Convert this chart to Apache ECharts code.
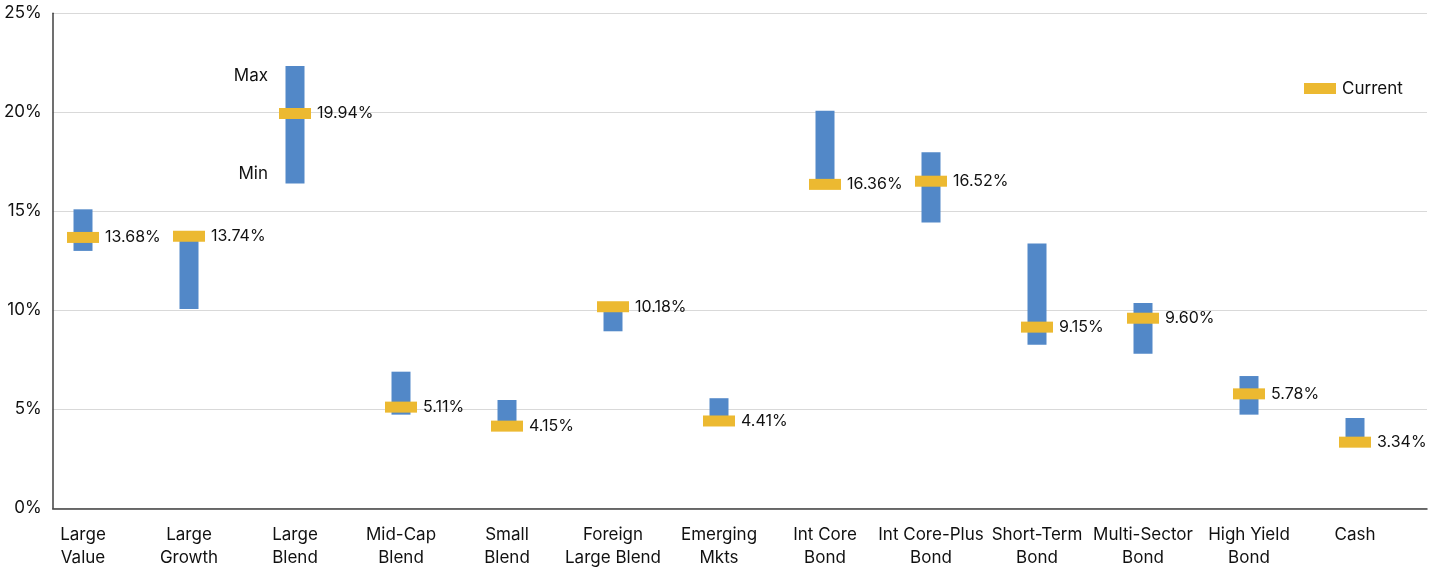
<!DOCTYPE html>
<html>
<head>
<meta charset="utf-8">
<script src="https://cdn.jsdelivr.net/npm/echarts@6/dist/echarts.min.js"></script>
<style>
  html, body { margin: 0; padding: 0; background: #fff; }
  #chart { width: 1442px; height: 567px; }
</style>
</head>
<body>
<div id="chart"></div>
<script>
// Yield ranges (min / max) by category, with the current yield
const categories = [
  'Large\nValue', 'Large\nGrowth', 'Large\nBlend', 'Mid-Cap\nBlend', 'Small\nBlend',
  'Foreign\nLarge Blend', 'Emerging\nMkts', 'Int Core\nBond', 'Int Core-Plus\nBond',
  'Short-Term\nBond', 'Multi-Sector\nBond', 'High Yield\nBond', 'Cash'
];
const minValues = [13.00, 10.07, 16.41, 4.73, 4.15, 8.94, 4.41, 16.36, 14.44, 8.26, 7.81, 4.73, 3.34];
const maxValues = [15.10, 13.74, 22.34, 6.90, 5.47, 10.18, 5.56, 20.08, 17.98, 13.38, 10.37, 6.68, 4.56];
const currentValues = [13.68, 13.74, 19.94, 5.11, 4.15, 10.18, 4.41, 16.36, 16.52, 9.15, 9.60, 5.78, 3.34];
const yTicks = [0, 5, 10, 15, 20, 25];

const FONT = 'Inter, "Noto Sans", sans-serif';
const BLUE = '#5288C8';
const GOLD = '#ECB931';
const TEXT = '#111111';

const chart = echarts.init(document.getElementById('chart'), null, { renderer: 'canvas' });

const gridTop = 13.3;
const gridBottom = 567 - 508.3;

// Max / Min notes beside the Large Blend range
const noteIdx = 2;

chart.setOption({
  backgroundColor: '#fff',
  animation: false,
  textStyle: { fontFamily: FONT },
  legend: {
    data: ['Current'],
    left: 1299,
    top: 75,
    itemWidth: 32,
    itemHeight: 11,
    icon: 'rect',
    itemGap: 10,
    itemStyle: { opacity: 1 },
    textStyle: { fontFamily: FONT, fontSize: 17, color: TEXT, padding: [0, 0, 0, 1] }
  },
  grid: [
    // plotting grid: category bands
    { left: 30, right: 34, top: gridTop, bottom: gridBottom, outerBoundsMode: 'none', containLabel: false },
    // frame grid: axis lines, gridlines and tick labels
    { left: 52.7, right: 15, top: gridTop, bottom: gridBottom, outerBoundsMode: 'none', containLabel: false }
  ],
  xAxis: [
    {
      gridIndex: 0,
      type: 'category',
      data: categories,
      axisLine: { show: false },
      axisTick: { show: false },
      axisLabel: {
        interval: 0,
        margin: 15,
        fontFamily: FONT,
        fontSize: 17,
        lineHeight: 23,
        color: TEXT
      }
    },
    {
      gridIndex: 1,
      type: 'value',
      min: 0,
      max: 1,
      axisLine: { show: true, onZero: false, lineStyle: { color: '#404040', width: 1.5 } },
      axisTick: { show: false },
      axisLabel: { show: false },
      splitLine: { show: false }
    }
  ],
  yAxis: [
    {
      gridIndex: 0,
      type: 'value',
      min: yTicks[0],
      max: yTicks[yTicks.length - 1],
      interval: 5,
      show: false
    },
    {
      gridIndex: 1,
      type: 'value',
      min: yTicks[0],
      max: yTicks[yTicks.length - 1],
      interval: 5,
      axisLine: { show: true, lineStyle: { color: '#404040', width: 1.5 } },
      axisTick: { show: false },
      axisLabel: {
        margin: 11,
        fontFamily: FONT,
        fontSize: 17,
        color: TEXT,
        padding: [3, 0, 0, 0],
        formatter: v => v + '%'
      },
      splitLine: { show: true, lineStyle: { color: '#d9d9d9', width: 1.2 } }
    }
  ],
  series: [
    {
      name: 'base',
      type: 'bar',
      xAxisIndex: 0,
      yAxisIndex: 0,
      stack: 'range',
      barWidth: 19,
      silent: true,
      itemStyle: { color: 'rgba(0,0,0,0)' },
      data: minValues
    },
    {
      name: 'Range',
      type: 'bar',
      xAxisIndex: 0,
      yAxisIndex: 0,
      stack: 'range',
      barWidth: 19,
      itemStyle: { color: BLUE },
      data: maxValues.map((mx, i) => +(mx - minValues[i]).toFixed(4))
    },
    {
      name: 'Current',
      type: 'scatter',
      xAxisIndex: 0,
      yAxisIndex: 0,
      symbol: 'rect',
      symbolSize: [32, 11],
      z: 5,
      itemStyle: { color: GOLD, opacity: 1 },
      label: {
        show: true,
        position: 'right',
        distance: 6,
        fontFamily: FONT,
        fontSize: 16,
        color: TEXT,
        opacity: 1,
        formatter: p => p.value[1].toFixed(2) + '%'
      },
      data: currentValues.map((v, i) => [i, v])
    },
    {
      name: 'notes',
      type: 'scatter',
      xAxisIndex: 0,
      yAxisIndex: 0,
      symbolSize: 0,
      silent: true,
      itemStyle: { opacity: 1 },
      label: {
        show: true,
        position: 'left',
        distance: 27,
        fontFamily: FONT,
        fontSize: 17,
        color: TEXT,
        formatter: p => p.name
      },
      data: [
        { name: 'Max', value: [noteIdx, maxValues[noteIdx]], label: { offset: [0, 10] } },
        { name: 'Min', value: [noteIdx, minValues[noteIdx]], label: { offset: [0, -9] } }
      ]
    }
  ]
});
</script>
</body>
</html>
